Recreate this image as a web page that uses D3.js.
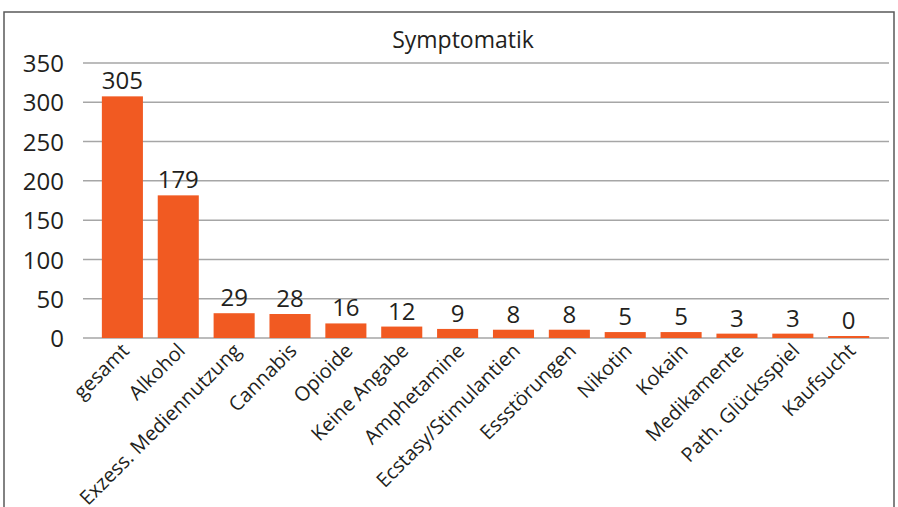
<!DOCTYPE html>
<html>
<head>
<meta charset="utf-8">
<script src="https://cdn.jsdelivr.net/npm/d3@7"></script>
<style>
  body { margin: 0; background: #fff; }
  text { font-family: "Open Sans", sans-serif; fill: #231f20; }
</style>
</head>
<body>
<script>
// Data
const categories = ["gesamt", "Alkohol", "Exzess. Mediennutzung", "Cannabis", "Opioide",
  "Keine Angabe", "Amphetamine", "Ecstasy/Stimulantien", "Essstörungen", "Nikotin",
  "Kokain", "Medikamente", "Path. Glücksspiel", "Kaufsucht"];
const counts = [305, 179, 29, 28, 16, 12, 9, 8, 8, 5, 5, 3, 3, 0];
const yTicks = [0, 50, 100, 150, 200, 250, 300, 350];
const title = "Symptomatik";

const width = 898, height = 507;
const barColor = "#f15a22";

const svg = d3.select("body").append("svg")
  .attr("width", width)
  .attr("height", height);

// Frame
svg.append("rect")
  .attr("x", 4).attr("y", 12)
  .attr("width", 890).attr("height", 520)
  .attr("fill", "none")
  .attr("stroke", "#595959")
  .attr("stroke-width", 1.5);

// Scales
const x = d3.scaleBand()
  .domain(categories)
  .range([94.6, 876.5])
  .paddingInner(0.265)
  .paddingOuter(0.13);

const y = d3.scaleLinear()
  .domain([0, 350])
  .range([338, 63]);

// Gridlines
svg.append("g")
  .selectAll("line")
  .data(yTicks)
  .join("line")
  .attr("x1", 83).attr("x2", 889)
  .attr("y1", d => y(d)).attr("y2", d => y(d))
  .attr("stroke", "#a6a6a6")
  .attr("stroke-width", 1.5);

// Y axis labels
const yAxis = svg.append("g")
  .attr("transform", "translate(64,0)")
  .call(d3.axisLeft(y).tickValues(yTicks).tickSize(0).tickPadding(0));
yAxis.select(".domain").remove();
yAxis.selectAll("text")
  .attr("font-size", 24)
  .attr("font-family", "Open Sans")
  .attr("fill", "#231f20")
  .attr("dy", "0.36em");

// Bars
svg.append("g")
  .selectAll("rect")
  .data(counts)
  .join("rect")
  .attr("x", (d, i) => x(categories[i]))
  .attr("width", x.bandwidth())
  .attr("y", d => y(d) - 2)
  .attr("height", d => y(0) - y(d) + 2)
  .attr("fill", barColor);

// Value labels
svg.append("g")
  .selectAll("text")
  .data(counts)
  .join("text")
  .attr("x", (d, i) => x(categories[i]) + x.bandwidth() / 2)
  .attr("y", d => y(d) - 9)
  .attr("text-anchor", "middle")
  .attr("font-size", 24)
  .text(d => d);

// X axis labels
svg.append("g")
  .selectAll("text")
  .data(categories)
  .join("text")
  .attr("transform", d => `translate(${x(d) + x.bandwidth() / 2 + 8},${y(0) + 14}) rotate(-45)`)
  .attr("text-anchor", "end")
  .attr("font-size", 20)
  .text(d => d);

// Title
svg.append("text")
  .attr("x", 463)
  .attr("y", 48)
  .attr("text-anchor", "middle")
  .attr("font-size", 23)
  .text(title);
</script>
</body>
</html>
